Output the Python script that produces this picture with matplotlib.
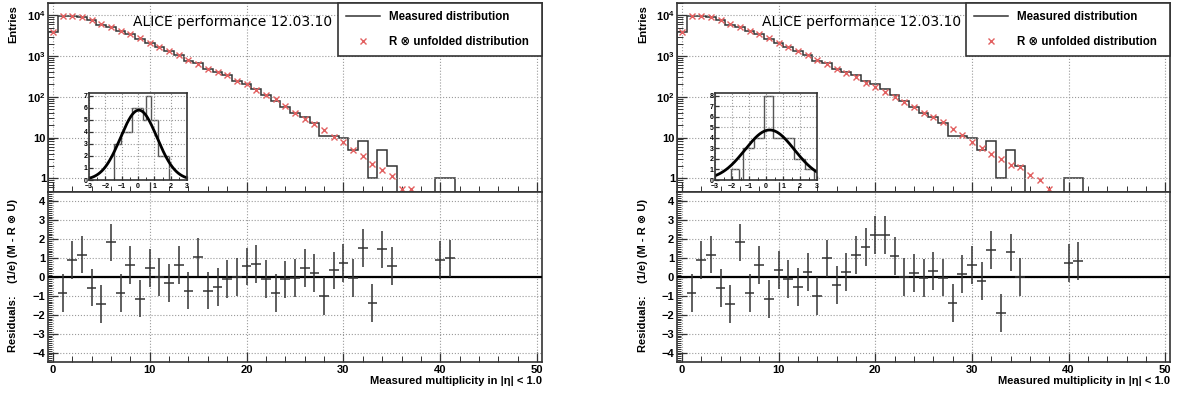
import numpy as np
import matplotlib
matplotlib.use("Agg")
import matplotlib.pyplot as plt
from matplotlib.lines import Line2D
from matplotlib.ticker import FixedLocator, MultipleLocator, LogLocator, NullFormatter

plt.rcParams['font.family'] = ['Liberation Sans', 'DejaVu Sans']
plt.rcParams['font.weight'] = 'bold'
plt.rcParams['mathtext.fontset'] = 'custom'
plt.rcParams['mathtext.rm'] = 'Liberation Sans'
plt.rcParams['mathtext.bf'] = 'Liberation Sans:bold'

# measured multiplicity histogram (same in both panels), bins 0..41
measured = [3800, 9700, 9600, 9000, 7750, 5900, 5300, 4050, 3450, 2650,
            2120, 1670, 1310, 1070, 770, 675, 475, 395, 333, 245,
            211, 158, 112, 79, 56, 40, 32, 23, 11, 11,
            10, 5, 8, 1, 5, 2, 0, 0, 0, 0, 1, 1]

# R (x) unfolded distribution
folded_left = [3900, 9700, 9500, 9100, 7800, 6000, 5200, 4100, 3400, 2700,
               2100, 1670, 1320, 1050, 790, 650, 490, 405, 335, 245,
               203, 150, 113, 87, 58, 40, 29, 22, 15.6, 10.3,
               7.8, 5.0, 3.5, 2.3, 1.6, 1.14, 0.53, 0.53]
folded_right = [3900, 9700, 9500, 9100, 7800, 6000, 5200, 4100, 3400, 2700,
                2100, 1670, 1320, 1050, 790, 630, 490, 380, 305, 218,
                175, 130, 99, 74, 56, 41, 31, 24, 16.5, 11.3,
                7.8, 5.4, 3.9, 2.9, 2.1, 1.9, 1.18, 0.89, 0.53]

# residuals
res_x = list(range(1, 36)) + [40, 41]
res_left = [-0.84, 0.91, 1.19, -0.56, -1.44, 1.83, -0.83, 0.65, -1.14, 0.46,
            0.0, -0.30, 0.62, -0.72, 1.07, -0.72, -0.51, -0.09, 0.0, 0.56,
            0.70, -0.10, -0.84, -0.13, -0.06, 0.49, 0.23, -1.0, 0.35, 0.76,
            -0.05, 1.55, -1.37, 1.46, 0.58, 0.88, 0.98]
res_right = [-0.84, 0.91, 1.19, -0.58, -1.44, 1.83, -0.83, 0.65, -1.18, 0.39,
             -0.12, -0.53, 0.26, -1.02, 0.98, -0.44, 0.26, 1.18, 1.58, 2.23,
             2.23, 1.11, 0.0, 0.21, -0.05, 0.32, -0.03, -1.37, 0.14, 0.63,
             -0.23, 1.41, -1.90, 1.30, 0.0, 0.74, 0.83]
res_err = 1.0
bin_half = 0.5

# inset: residual distribution + gaussian fit
inset_edges_left = [-1.5, -1.05, -0.35, 0.3, 0.5, 0.8, 1.2, 1.9]
inset_counts_left = [3, 4, 6, 5, 7, 5, 2]
gaus_left = (5.8, 0.05, 1.12)   # amplitude, mean, sigma
inset_edges_right = [-2.05, -1.6, -1.35, -0.7, -0.1, 0.4, 1.65, 2.3, 2.8]
inset_counts_right = [1, 0, 3, 4, 8, 4, 2, 1]
gaus_right = (4.75, 0.22, 1.45)

DARK = '#333333'
RED = '#e26060'
GRID = dict(ls=':', color='#9a9a9a', lw=0.8)

W, H = 1178, 394
fig = plt.figure(figsize=(W / 100, H / 100), dpi=100)


def fx(px):
    return px / W


def fy(py):
    return (H - py) / H


def style(ax):
    for s in ax.spines.values():
        s.set_color(DARK)
        s.set_linewidth(1.2)
    ax.tick_params(which='both', direction='in', colors=DARK, labelcolor='black',
                   labelsize=8, top=False, right=False)
    ax.tick_params(which='major', length=7, width=0.9)
    ax.tick_params(which='minor', length=4, width=0.7)


def panel(x0, x1, folded, res, ins_edges, ins_counts, gaus, ins_x0, ins_x1, ins_ymax, lab_x):
    axt = fig.add_axes([fx(x0), fy(192), fx(x1 - x0), (192 - 3) / H])
    axb = fig.add_axes([fx(x0), fy(362), fx(x1 - x0), (362 - 192) / H])

    edges = np.arange(len(measured) + 1) - 0.5
    axt.set_yscale('log')
    axt.stairs(measured, edges, color=DARK, lw=1.1, baseline=1e-6)
    axt.plot(np.arange(len(folded)), folded, ls='none', marker='x', ms=4.5,
             mew=1.0, color=RED)
    axt.set_xlim(-0.5, 50.5)
    axt.set_ylim(0.46, 2e4)
    axt.yaxis.set_major_locator(FixedLocator([1, 10, 100, 1000, 10000]))
    axt.set_yticklabels(['1', '10', r'$\mathbf{10^{2}}$', r'$\mathbf{10^{3}}$', r'$\mathbf{10^{4}}$'])
    axt.yaxis.set_minor_locator(LogLocator(base=10, subs=np.arange(2, 10)))
    axt.yaxis.set_minor_formatter(NullFormatter())
    axt.xaxis.set_major_locator(MultipleLocator(10))
    axt.xaxis.set_minor_locator(MultipleLocator(2))
    axt.set_xticklabels([])
    axt.grid(True, which='major', **GRID)
    style(axt)
    axt.tick_params(axis='y', pad=1.5)

    handles = [Line2D([], [], color=DARK, lw=1.1),
               Line2D([], [], ls='none', marker='x', ms=4.5, mew=1.0, color=RED)]
    leg = axt.legend(handles, ['Measured distribution', 'R \u2297 unfolded distribution'],
                     loc='upper left', bbox_to_anchor=((338 - 48) / 494, 0.7, 1 - (338 - 48) / 494, 0.3),
                     mode='expand', borderaxespad=0, fancybox=False, framealpha=1,
                     edgecolor=DARK, prop=dict(size=8.3, weight='bold'),
                     handlelength=2.9, handletextpad=0.8, labelspacing=1.1, borderpad=0.7)
    leg.get_frame().set_linewidth(1.2)

    fig.text(fx(x0 + 85), fy(22), 'ALICE performance 12.03.10', family='DejaVu Sans',
             weight='normal', fontsize=10, va='center', ha='left')

    # residuals
    axb.axhline(0, color='black', lw=1.6, zorder=3)
    axb.errorbar(res_x, res, yerr=res_err, xerr=bin_half, fmt='none', ecolor=DARK,
                 elinewidth=1.1, capsize=0, zorder=4)
    axb.set_xlim(-0.5, 50.5)
    axb.set_ylim(-4.5, 4.5)
    axb.xaxis.set_major_locator(MultipleLocator(10))
    axb.xaxis.set_minor_locator(MultipleLocator(2))
    axb.yaxis.set_major_locator(MultipleLocator(1))
    axb.yaxis.set_minor_locator(MultipleLocator(0.1))
    axb.grid(True, which='major', **GRID)
    style(axb)
    axb.tick_params(axis='x', pad=2)
    axb.tick_params(axis='y', pad=2)
    axb.tick_params(axis='y', which='minor', length=3)

    fig.text(fx(x1), fy(381), 'Measured multiplicity in |\u03b7| < 1.0', ha='right',
             va='center', fontsize=8, weight='bold')
    fig.text(fx(lab_x), fy(5), 'Entries', rotation=90, ha='center', va='top',
             fontsize=8, weight='bold')
    fig.text(fx(lab_x), fy(276), 'Residuals:    (1/e) (M - R \u2297 U)', rotation=90,
             ha='center', va='center', fontsize=8, weight='bold')

    # inset
    axi = fig.add_axes([fx(ins_x0), fy(180), fx(ins_x1 - ins_x0), (180 - 92.7) / H])
    axi.stairs(ins_counts, ins_edges, color='#555555', lw=1.0, baseline=0)
    amp, mu, sig = gaus
    xs = np.linspace(-3, 3, 200)
    axi.plot(xs, amp * np.exp(-0.5 * ((xs - mu) / sig) ** 2), color='black', lw=2)
    axi.set_xlim(-3, 3)
    axi.set_ylim(0, ins_ymax)
    axi.xaxis.set_major_locator(MultipleLocator(1))
    axi.xaxis.set_minor_locator(MultipleLocator(0.5))
    axi.yaxis.set_major_locator(MultipleLocator(1))
    axi.grid(True, which='major', **GRID)
    style(axi)
    axi.tick_params(labelsize=5)
    axi.tick_params(axis='x', pad=1.8)
    axi.tick_params(axis='y', pad=1.2)
    axi.tick_params(which='major', length=3)
    axi.tick_params(which='minor', length=2)


panel(48, 542, folded_left, res_left, inset_edges_left, inset_counts_left, gaus_left,
      89, 187, 7.25, 13)
panel(677, 1170, folded_right, res_right, inset_edges_right, inset_counts_right, gaus_right,
      715, 817, 8.29, 643)

fig.savefig('out.png', dpi=100)
